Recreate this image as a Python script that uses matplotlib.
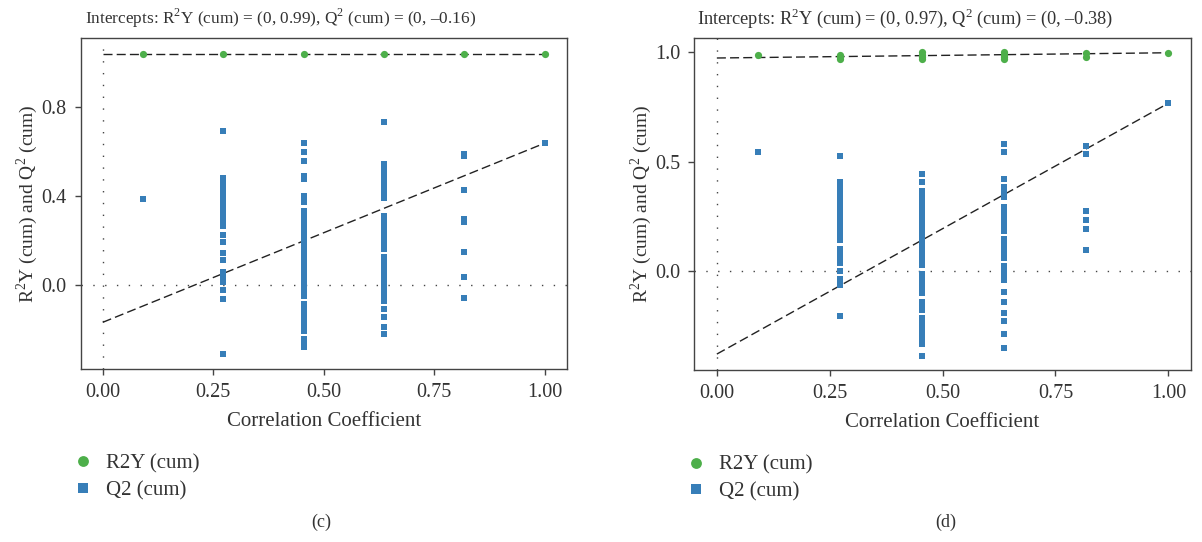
import matplotlib
matplotlib.use("Agg")
import matplotlib.pyplot as plt

plt.rcParams['font.family'] = ['Liberation Serif', 'DejaVu Serif']
plt.rcParams['mathtext.fontset'] = 'custom'
plt.rcParams['mathtext.rm'] = 'Liberation Serif'

# ── data ─────────────────────────────────────────────────────────────────────
corr = [0.091, 0.273, 0.455, 0.636, 0.818, 1.000]

# panel (c)
c_r2y = {0.091: [1.036], 0.273: [1.036], 0.455: [1.036],
         0.636: [1.036], 0.818: [1.036], 1.000: [1.036]}
c_q2 = {
    0.091: [0.385],
    0.273: [0.69, 0.48, 0.455, 0.43, 0.405, 0.38, 0.355, 0.33, 0.305, 0.28,
            0.267, 0.224, 0.192, 0.143, 0.114, 0.061, 0.038, 0.016, -0.022,
            -0.063, -0.31],
    0.455: [0.635, 0.595, 0.556, 0.49, 0.474, 0.40, 0.371, 0.331, 0.31, 0.29,
            0.27, 0.25, 0.23, 0.21, 0.19, 0.17, 0.15, 0.13, 0.11, 0.09, 0.07,
            0.05, 0.03, 0.01, -0.01, -0.03, -0.048, -0.085, -0.105, -0.125,
            -0.145, -0.165, -0.185, -0.203, -0.242, -0.26, -0.278],
    0.636: [0.733, 0.545, 0.525, 0.505, 0.485, 0.465, 0.445, 0.425, 0.405,
            0.389, 0.312, 0.29, 0.27, 0.25, 0.23, 0.21, 0.19, 0.17, 0.161,
            0.125, 0.105, 0.085, 0.065, 0.045, 0.025, 0.005, -0.015, -0.035,
            -0.055, -0.069, -0.108, -0.143, -0.188, -0.22],
    0.818: [0.586, 0.578, 0.425, 0.297, 0.281, 0.151, 0.035, -0.058],
    1.000: [0.636],
}
c_r2y_line = [1.036, 1.036]      # value at x=0 and x=1
c_q2_line = [-0.166, 0.636]
c_title = "Intercepts: R$^2$Y (cum) = (0, 0.99), Q$^2$ (cum) = (0, \u20130.16)"
c_yticks = [0.0, 0.4, 0.8]
c_ylim = (-0.375, 1.107)

# panel (d)
d_r2y = {0.091: [0.988], 0.273: [0.97, 0.98, 0.99],
         0.455: [0.968, 0.98, 0.99, 1.0], 0.636: [0.968, 0.98, 0.99, 1.0],
         0.818: [0.98, 0.995], 1.000: [0.996]}
d_q2 = {
    0.091: [0.543],
    0.273: [0.525, 0.406, 0.385, 0.365, 0.345, 0.325, 0.305, 0.285, 0.265,
            0.245, 0.225, 0.205, 0.185, 0.165, 0.142, 0.101, 0.08, 0.06, 0.035,
            -0.002, -0.039, -0.066, -0.208],
    0.455: [0.442, 0.405, 0.365, 0.345, 0.325, 0.305, 0.285, 0.265, 0.245,
            0.225, 0.205, 0.185, 0.165, 0.145, 0.125, 0.105, 0.085, 0.065,
            0.045, 0.027, -0.014, -0.035, -0.055, -0.075, -0.103, -0.143,
            -0.165, -0.18, -0.216, -0.236, -0.256, -0.276, -0.296, -0.316,
            -0.336, -0.387],
    0.636: [0.58, 0.546, 0.42, 0.384, 0.36, 0.337, 0.292, 0.27, 0.25, 0.23,
            0.21, 0.19, 0.181, 0.145, 0.125, 0.105, 0.085, 0.061, 0.022, 0.0,
            -0.02, -0.043, -0.095, -0.143, -0.19, -0.23, -0.29, -0.35],
    0.818: [0.572, 0.533, 0.275, 0.233, 0.19, 0.095],
    1.000: [0.767],
}
d_r2y_line = [0.974, 0.998]
d_q2_line = [-0.38, 0.767]
d_title = "Intercepts: R$^2$Y (cum) = (0, 0.97), Q$^2$ (cum) = (0, \u20130.38)"
d_yticks = [0.0, 0.5, 1.0]
d_ylim = (-0.453, 1.064)

xticks = [0.0, 0.25, 0.5, 0.75, 1.0]

GREEN = '#4daf4a'
BLUE = '#377eb8'
INK = '#333333'


def flatten(groups):
    xs, ys = [], []
    for x in corr:
        for y in groups[x]:
            xs.append(x)
            ys.append(y)
    return xs, ys


def draw_panel(ax, r2y, q2, r2y_line, q2_line, yticks, ylim, yfmt):
    ax.axhline(0, color='#444444', lw=1.0, ls=(0, (1, 7.5)), zorder=1)
    ax.axvline(0, color='#444444', lw=1.0, ls=(0, (1, 7.5)), zorder=1)

    qx, qy = flatten(q2)
    ax.plot(qx, qy, ls='none', marker='s', ms=5.0, mew=0, color=BLUE,
            label='Q2 (cum)', zorder=3)
    rx, ry = flatten(r2y)
    ax.plot(rx, ry, ls='none', marker='o', ms=5.2, mew=0, color=GREEN,
            label='R2Y (cum)', zorder=3)

    ax.plot([0, 1], r2y_line, color='#222222', lw=1.0, dashes=(6.5, 3),
            zorder=2)
    ax.plot([0, 1], q2_line, color='#222222', lw=1.0, dashes=(6.5, 3),
            zorder=2)

    ax.set_xlim(-0.05, 1.05)
    ax.set_ylim(*ylim)
    ax.set_xticks(xticks)
    ax.set_xticklabels([f"{t:.2f}" for t in xticks])
    ax.set_yticks(yticks)
    ax.set_yticklabels([yfmt.format(t) for t in yticks])
    ax.tick_params(direction='out', length=4, width=1, color='#444444',
                   labelsize=14.5, labelcolor=INK, pad=6)
    for s in ax.spines.values():
        s.set_color('#444444')
        s.set_linewidth(1.0)

    ax.set_xlabel("Correlation Coefficient", fontsize=15, color=INK,
                  labelpad=7)
    ax.set_ylabel("R$^2$Y (cum) and Q$^2$ (cum)", fontsize=14, color=INK,
                  labelpad=1)

    handles, labels = ax.get_legend_handles_labels()
    ax.legend(handles[::-1], labels[::-1], loc='upper left',
              bbox_to_anchor=(-0.03, -0.232), frameon=False, fontsize=15,
              markerscale=1.5, handlelength=0.8, handletextpad=0.7,
              labelspacing=0.35, borderaxespad=0, labelcolor=INK)


fig = plt.figure(figsize=(12.02, 5.42), dpi=100)
ax_c = fig.add_axes([0.0671, 0.3192, 0.4044, 0.6107])
ax_d = fig.add_axes([0.5776, 0.3173, 0.4132, 0.6120])

draw_panel(ax_c, c_r2y, c_q2, c_r2y_line, c_q2_line, c_yticks, c_ylim,
           "{:.1f}")
draw_panel(ax_d, d_r2y, d_q2, d_r2y_line, d_q2_line, d_yticks, d_ylim,
           "{:.1f}")

fig.text(0.0707, 0.966, c_title, fontsize=12.4, color=INK, va='center',
         ha='left')
fig.text(0.5796, 0.966, d_title, fontsize=13.2, color=INK, va='center',
         ha='left')

fig.text(321 / 1202, 1 - 522 / 542, "(c)", fontsize=13, color=INK,
         ha='center', va='center')
fig.text(946 / 1202, 1 - 522 / 542, "(d)", fontsize=13, color=INK,
         ha='center', va='center')

fig.savefig("out.png", dpi=100)
